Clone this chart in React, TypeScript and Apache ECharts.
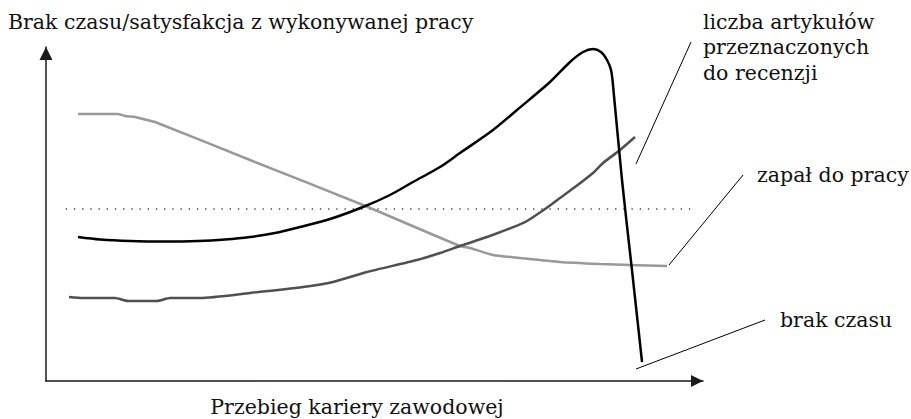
import React, { useEffect, useRef } from "react";
import * as echarts from "echarts";

// Axis titles
const xAxisTitle = "Przebieg kariery zawodowej";
const yAxisTitle = "Brak czasu/satysfakcja z wykonywanej pracy";

// Series labels
const labelBrak = "brak czasu";
const labelArtykuly = "liczba artykułów\nprzeznaczonych\ndo recenzji";
const labelZapal = "zapał do pracy";

// brak czasu (black)
const brakX = [4.87, 8.22, 12.79, 18.11, 23.14, 27.25, 31.05, 34.86, 38.66, 43.23, 48.25, 52.36, 55.86, 59.97, 63.01, 68.04, 71.69, 76.71, 79.76, 81.74, 83.26, 84.47, 85.39, 86.0, 86.3, 87.67, 89.19, 90.72];
const brakY = [43.11, 42.37, 41.92, 41.77, 41.92, 42.37, 43.11, 44.31, 46.11, 48.5, 52.1, 55.69, 59.58, 64.07, 68.26, 75.15, 81.14, 89.52, 95.51, 98.5, 99.4, 98.5, 96.11, 93.11, 88.62, 60.18, 33.23, 5.69];

// liczba artykułów przeznaczonych do recenzji (dark grey)
const artX = [3.5, 5.63, 10.5, 12.48, 16.89, 18.87, 23.44, 31.05, 39.12, 43.68, 48.86, 56.47, 59.97, 63.01, 67.12, 72.91, 75.95, 78.23, 80.52, 83.26, 84.78, 87.37, 89.65];
const artY = [25.15, 24.85, 24.85, 23.95, 23.95, 24.85, 24.85, 26.35, 28.14, 29.64, 32.63, 36.23, 38.32, 40.42, 43.11, 47.6, 51.5, 54.79, 58.08, 62.28, 65.27, 69.16, 73.05];

// zapał do pracy (light grey)
const zapalX = [4.87, 10.96, 12.02, 13.55, 14.76, 16.59, 31.05, 48.25, 63.01, 64.54, 68.04, 72.15, 78.23, 84.32, 88.89, 94.52];
const zapalY = [79.94, 79.94, 79.34, 79.04, 78.44, 77.54, 66.17, 52.69, 40.42, 39.82, 37.72, 36.83, 35.63, 35.03, 34.73, 34.43];

// dotted reference level
const refX = [3.0, 99.1];
const refY = [51.5, 51.5];

const zip = (xs: number[], ys: number[]) => xs.map((x, i) => [x, ys[i]]);

const FONT = "DejaVu Serif";
const FS = 20.5;

export default function App() {
  const ref = useRef<HTMLDivElement>(null);
  useEffect(() => {
    document.body.style.margin = "0";
    if (!ref.current) return;
    const chart = echarts.init(ref.current, null, { renderer: "svg" });
    const axisCommon = {
      type: "value" as const,
      min: 0,
      max: 100,
      axisTick: { show: false },
      axisLabel: { show: false },
      splitLine: { show: false },
    };
    const txt = (extra: any) => ({ fontFamily: FONT, fontSize: FS, fill: "#111", ...extra });
    chart.setOption({
      animation: false,
      backgroundColor: "#ffffff",
      grid: { left: 46, right: 208, top: 47, bottom: 38, containLabel: false },
      xAxis: {
        ...axisCommon,
        axisLine: {
          show: true,
          symbol: ["none", "triangle"],
          symbolSize: [12, 12],
          symbolOffset: [0, -6],
          lineStyle: { color: "#1a1a1a", width: 1.5 },
        },
      },
      yAxis: {
        ...axisCommon,
        axisLine: {
          show: true,
          symbol: ["none", "triangle"],
          symbolSize: [13, 13],
          symbolOffset: [0, -6.5],
          lineStyle: { color: "#1a1a1a", width: 1.5 },
        },
      },
      series: [
        {
          type: "line",
          name: "poziom",
          data: zip(refX, refY),
          showSymbol: false,
          silent: true,
          lineStyle: { color: "#444", width: 1.3, type: [1.3, 6.9] },
        },
        {
          type: "line",
          name: "zapał do pracy",
          data: zip(zapalX, zapalY),
          showSymbol: false,
          smooth: 0.2,
          clip: false,
          lineStyle: { color: "#999999", width: 2.5 },
        },
        {
          type: "line",
          name: "liczba artykułów",
          data: zip(artX, artY),
          showSymbol: false,
          smooth: 0.2,
          clip: false,
          lineStyle: { color: "#505050", width: 2.5 },
        },
        {
          type: "line",
          name: "brak czasu",
          data: zip(brakX, brakY),
          showSymbol: false,
          smooth: 0.3,
          clip: false,
          lineStyle: { color: "#000000", width: 2.5 },
        },
      ],
      graphic: [
        { type: "text", x: 8, y: 22, style: txt({ text: yAxisTitle, verticalAlign: "middle" }) },
        { type: "text", x: 357, y: 407, style: txt({ text: xAxisTitle, align: "center", verticalAlign: "middle" }) },
        { type: "text", x: 703, y: 9, style: txt({ text: labelArtykuly, lineHeight: 25.5, verticalAlign: "top" }) },
        { type: "text", x: 757, y: 175, style: txt({ text: labelZapal, verticalAlign: "middle" }) },
        { type: "text", x: 780, y: 320, style: txt({ text: labelBrak, verticalAlign: "middle" }) },
        { type: "line", shape: { x1: 636, y1: 164, x2: 691, y2: 42 }, style: { stroke: "#000", lineWidth: 1 } },
        { type: "line", shape: { x1: 669, y1: 265, x2: 743, y2: 175 }, style: { stroke: "#000", lineWidth: 1 } },
        { type: "line", shape: { x1: 636, y1: 369, x2: 765, y2: 320 }, style: { stroke: "#000", lineWidth: 1 } },
      ],
    });
    return () => chart.dispose();
  }, []);
  return <div ref={ref} style={{ width: 911, height: 419 }} />;
}
